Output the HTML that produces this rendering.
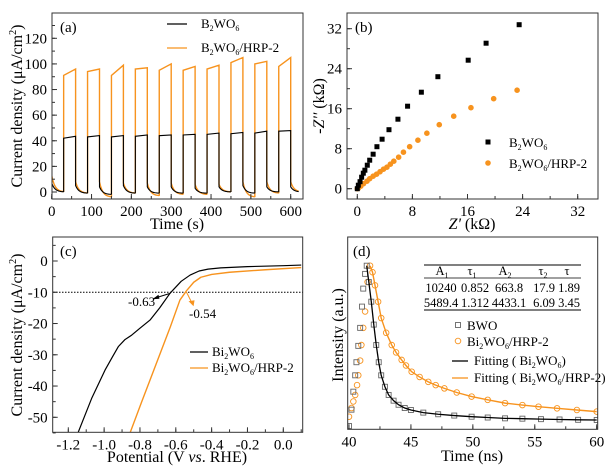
<!DOCTYPE html>
<html><head><meta charset="utf-8"><style>
html,body{margin:0;padding:0;background:#fff;}
svg, svg text, svg tspan{font-family:"Liberation Serif","DejaVu Serif",serif;}
</style></head><body>
<svg id="fig" width="615" height="471" viewBox="0 0 615 471" font-family="Liberation Serif, DejaVu Serif, serif">
<defs>
<clipPath id="ca"><rect x="52" y="13" width="251" height="186"/></clipPath>
<clipPath id="cb"><rect x="347" y="13" width="251" height="186"/></clipPath>
<clipPath id="cc"><rect x="53" y="237" width="250" height="195"/></clipPath>
<clipPath id="cd"><rect x="348" y="237" width="250" height="192"/></clipPath>
</defs>
<text x="60" y="32" font-size="15">(a)</text>
<text x="355" y="32" font-size="15">(b)</text>
<text x="60" y="256" font-size="15">(c)</text>
<text x="353" y="256" font-size="15">(d)</text>

<text transform="translate(22,106) rotate(-90)" text-anchor="middle" font-size="16">Current density (μA/cm<tspan dy="-6" font-size="10">2</tspan><tspan dy="6">)</tspan></text>
<text x="177" y="229" text-anchor="middle" font-size="16">Time (s)</text>
<text transform="translate(324,106) rotate(-90)" text-anchor="middle" font-size="16">-<tspan font-style="italic">Z''</tspan> (kΩ)</text>
<text x="472" y="229" text-anchor="middle" font-size="16"><tspan font-style="italic">Z'</tspan> (kΩ)</text>
<text transform="translate(22,335) rotate(-90)" text-anchor="middle" font-size="16">Current density (μA/cm<tspan dy="-6" font-size="10">2</tspan><tspan dy="6">)</tspan></text>
<text x="177" y="462" text-anchor="middle" font-size="16">Potential (V <tspan font-style="italic">vs</tspan>. RHE)</text>
<text transform="translate(343,335) rotate(-90)" text-anchor="middle" font-size="16">Intensity (a.u.)</text>
<text x="472" y="461" text-anchor="middle" font-size="16">Time (ns)</text>

<g>
<line x1="167" y1="24" x2="187" y2="24" stroke="#000" stroke-width="1.3"/>
<text x="201" y="28" font-size="13">B<tspan dy="3" font-size="8">2</tspan><tspan dy="-3">WO</tspan><tspan dy="3" font-size="8">6</tspan></text>
<line x1="167" y1="48" x2="187" y2="48" stroke="#f7931e" stroke-width="1.3"/>
<text x="201" y="52" font-size="13">B<tspan dy="3" font-size="8">2</tspan><tspan dy="-3">WO</tspan><tspan dy="3" font-size="8">6</tspan><tspan dy="-3">/HRP-2</tspan></text>
</g>
<g>
<rect x="485.5" y="139.5" width="5" height="5" fill="#000"/>
<text x="509" y="147" font-size="13">B<tspan dy="3" font-size="8">2</tspan><tspan dy="-3">WO</tspan><tspan dy="3" font-size="8">6</tspan></text>
<circle cx="488" cy="163" r="2.8" fill="#f7931e"/>
<text x="509" y="168" font-size="13">B<tspan dy="3" font-size="8">2</tspan><tspan dy="-3">WO</tspan><tspan dy="3" font-size="8">6</tspan><tspan dy="-3">/HRP-2</tspan></text>
</g>
<g>
<line x1="190" y1="352" x2="208" y2="352" stroke="#000" stroke-width="1.3"/>
<text x="212" y="356" font-size="13">Bi<tspan dy="3" font-size="8">2</tspan><tspan dy="-3">WO</tspan><tspan dy="3" font-size="8">6</tspan></text>
<line x1="190" y1="368" x2="208" y2="368" stroke="#f7931e" stroke-width="1.3"/>
<text x="212" y="372" font-size="13">Bi<tspan dy="3" font-size="8">2</tspan><tspan dy="-3">WO</tspan><tspan dy="3" font-size="8">6</tspan><tspan dy="-3">/HRP-2</tspan></text>
</g>
<text x="128" y="306" font-size="13">-0.63</text>
<text x="189" y="318" font-size="13">-0.54</text>
<g font-size="12.5" text-anchor="middle">
<line x1="424" y1="265" x2="581" y2="265" stroke="#000"/>
<line x1="424" y1="278" x2="581" y2="278" stroke="#000" stroke-width="0.8"/>
<line x1="424" y1="310" x2="581" y2="310" stroke="#000"/>
<text x="442" y="275">A<tspan dy="3" font-size="8">1</tspan></text>
<text x="472" y="275">τ<tspan dy="3" font-size="8">1</tspan></text>
<text x="505" y="275">A<tspan dy="3" font-size="8">2</tspan></text>
<text x="543" y="275">τ<tspan dy="3" font-size="8">2</tspan></text>
<text x="567" y="275">τ</text>
<text x="441" y="292">10240</text><text x="475" y="292">0.852</text><text x="509" y="292">663.8</text><text x="544" y="292">17.9</text><text x="569" y="292">1.89</text>
<text x="441" y="307">5489.4</text><text x="475" y="307">1.312</text><text x="509" y="307">4433.1</text><text x="544" y="307">6.09</text><text x="569" y="307">3.45</text>
</g>
<g font-size="13">
<rect x="455.5" y="322.5" width="5" height="5" fill="none" stroke="#666" stroke-width="0.9"/>
<text x="467" y="330">BWO</text>
<circle cx="458" cy="341" r="2.8" fill="none" stroke="#f7931e" stroke-width="0.9"/>
<text x="467" y="346">Bi<tspan dy="3" font-size="8">2</tspan><tspan dy="-3">WO</tspan><tspan dy="3" font-size="8">6</tspan><tspan dy="-3">/HRP-2</tspan></text>
<line x1="452" y1="361" x2="468" y2="361" stroke="#000" stroke-width="1.3"/>
<text x="474" y="365">Fitting ( Bi<tspan dy="3" font-size="8">2</tspan><tspan dy="-3">WO</tspan><tspan dy="3" font-size="8">6</tspan><tspan dy="-3">)</tspan></text>
<line x1="452" y1="378" x2="468" y2="378" stroke="#f7931e" stroke-width="1.3"/>
<text x="474" y="382">Fitting ( Bi<tspan dy="3" font-size="8">2</tspan><tspan dy="-3">WO</tspan><tspan dy="3" font-size="8">6</tspan><tspan dy="-3">/HRP-2)</tspan></text>
</g>
</svg>
<script>
const aOnStartsOrange = [91,94,91,96,95,95,96,101,100,98];
const aOnEndsOrange = [96,96,99,97,100,98,99,105,102,105];
const aOnStartsBlack = [42,43,43,43.5,44,44.5,45,45.5,46,47.5];
const aOnEndsBlack = [43.5,44,44,44.5,44.5,45,46,46.5,47.5,48];
const aOffStartsOrange = [13,8,8,7,7,7,6,6,8,8,8];
const aOffEndsOrange = [0,-1,-4,-1,-3,-2,-2,0,-4,-1,0];
const aOffStartsBlack = [7,5,4,5,4,4,3,4,5,4,4];
const aOffEndsBlack = [0,-1,-2,-1,-1,-1,-1,0,-1,0,0];
const aXTicks = [0,100,200,300,400,500,600];
const aYTicks = [0,20,40,60,80,100,120];
const bBlackX = [0,0.15,0.4,0.63,0.87,1.1,1.45,1.8,2.3,2.85,3.6,4.6,5.9,7.3,9.3,11.7,16.1,18.7,23.5];
const bBlackY = [0,0.7,1.4,2.3,3.1,3.7,4.7,5.7,6.9,8.4,9.9,11.8,13.9,16.5,19.3,22.4,25.7,29.1,32.8];
const bOrangeX = [0,0.15,0.5,0.9,1.4,1.8,2.3,2.8,3.3,3.8,4.3,4.8,5.3,6.0,6.7,7.6,8.8,10.1,11.9,14.0,16.5,19.8,23.2];
const bOrangeY = [0,0.1,0.5,1.0,1.5,2.0,2.5,2.9,3.4,3.9,4.3,4.9,5.5,6.3,7.3,8.4,9.7,11.1,12.8,14.5,16.2,18.0,19.7];
const bTicks = [0,8,16,24,32];
const cBlackV = [-1.16,-1.07,-0.995,-0.955,-0.921,-0.885,-0.846,-0.8,-0.744,-0.69,-0.632,-0.57,-0.52,-0.47,-0.42,-0.35,-0.2,0,0.1];
const cBlackJ = [-57,-44,-34.9,-30.8,-27.4,-25.2,-23.7,-21.5,-18.9,-15,-10.3,-6.5,-4.5,-3.2,-2.6,-2.2,-1.8,-1.5,-1.3];
const cOrangeV = [-0.862,-0.79,-0.71,-0.63,-0.577,-0.54,-0.5,-0.46,-0.4,-0.3,-0.1,0.1];
const cOrangeJ = [-56,-45,-33,-21,-12.5,-9.5,-6.8,-5.2,-4.3,-3.6,-2.8,-2.1];
const cXTicks = [-1.2,-1.0,-0.8,-0.6,-0.4,-0.2,0.0];
const cYTicks = [0,-10,-20,-30,-40,-50];
const dBwoT = [40,40.2,40.35,40.5,40.6,40.75,40.9,41.05,41.15,41.3,41.43,41.6,41.8,42.0,42.2,42.4,42.6,42.9,43.2,43.6,44,44.5,45,46,47.2,48.5,49.9,51.2,52.6,54,55.5,57,58.5,60];
const dBwoI = [0.02,0.12,0.23,0.33,0.41,0.51,0.62,0.75,0.86,0.95,1.0,0.9,0.78,0.64,0.515,0.41,0.33,0.26,0.21,0.175,0.15,0.13,0.118,0.102,0.092,0.084,0.077,0.072,0.067,0.065,0.062,0.06,0.058,0.057];
const dHrpT = [40,40.2,40.35,40.5,40.65,40.75,40.9,41.0,41.15,41.3,41.5,41.7,41.9,42.1,42.35,42.6,43.0,43.45,43.8,44.25,44.6,45.06,45.7,46.4,47.0,47.7,48.7,49.9,51.2,52.6,54,55.3,56.8,58.4,60];
const dHrpI = [0.077,0.13,0.17,0.21,0.27,0.33,0.42,0.515,0.62,0.72,0.9,1.0,0.96,0.88,0.78,0.68,0.59,0.515,0.47,0.424,0.39,0.352,0.32,0.29,0.27,0.25,0.225,0.2,0.18,0.16,0.148,0.138,0.128,0.118,0.108];
const dXTicks = [40,45,50,55,60];

const NS='http://www.w3.org/2000/svg';
const svg=document.getElementById('fig');
function mk(tag,attrs,parent){const e=document.createElementNS(NS,tag);for(const k in attrs)e.setAttribute(k,attrs[k]);(parent||svg).appendChild(e);return e;}
function lin(d0,d1,r0,r1){return v=>r0+(v-d0)*(r1-r0)/(d1-d0);}
const ORANGE='#f7931e';
const FF='Liberation Serif, DejaVu Serif, serif';

function frame(x0,y0,x1,y1,name){
  const r=mk('rect',{x:x0,y:y0,width:x1-x0,height:y1-y0,fill:'none',stroke:'#333','stroke-width':1});
  
  
}
function xTicks(ticks,X,yb,labels,minorStep,lo,hi,name,fmt){
  const g=mk('g',{});
  
  
  ticks.forEach(t=>{
    mk('line',{x1:X(t),x2:X(t),y1:yb,y2:yb-5,stroke:'#333'},g);
    if(labels){const tx=mk('text',{x:X(t),y:yb+17,'text-anchor':'middle','font-size':15,'font-family':FF},g);tx.textContent=fmt?fmt(t):t;}
  });
  if(minorStep){for(let v=lo;v<=hi+1e-9;v+=minorStep){mk('line',{x1:X(v),x2:X(v),y1:yb,y2:yb-3,stroke:'#333'},g);}}
}
function yTicks(ticks,Y,xl,labels,minorStep,lo,hi,name,fmt){
  const g=mk('g',{});
  
  
  ticks.forEach(t=>{
    mk('line',{x1:xl,x2:xl+5,y1:Y(t),y2:Y(t),stroke:'#333'},g);
    if(labels){const tx=mk('text',{x:xl-5,y:Y(t)+5,'text-anchor':'end','font-size':15,'font-family':FF},g);tx.textContent=fmt?fmt(t):t;}
  });
  if(minorStep){for(let v=lo;v<=hi+1e-9;v+=minorStep){mk('line',{x1:xl,x2:xl+3,y1:Y(v),y2:Y(v),stroke:'#333'},g);}}
}
function pts(xs,ys,X,Y){return xs.map((x,i)=>X(x).toFixed(2)+','+Y(ys[i]).toFixed(2)).join(' ');}

(function(){
  const X=lin(0,600,51.7,290.7), Y=lin(0,120,192,38.3);
  function series(onS,onE,offS,offE){
    const ts=[],vs=[];
    for(let i=0;i<offS.length;i++){
      const t0=60*i, t1=Math.min(t0+30,620);
      for(let t=t0;t<=t1;t+=2){ts.push(t);vs.push(offE[i]+(offS[i]-offE[i])*Math.exp(-(t-t0)/8));}
      if(i<onS.length){const a=t0+30;ts.push(a);vs.push(offE[i]);ts.push(a);vs.push(onS[i]);ts.push(a+30);vs.push(onE[i]);}
    }
    return [ts,vs];
  }
  const g=mk('g',{'clip-path':'url(#ca)'});
  
  
  const [tb,vb]=series(aOnStartsBlack,aOnEndsBlack,aOffStartsBlack,aOffEndsBlack);
  const [to,vo]=series(aOnStartsOrange,aOnEndsOrange,aOffStartsOrange,aOffEndsOrange);
  const lo=mk('polyline',{points:pts(to,vo,X,Y),fill:'none',stroke:ORANGE,'stroke-width':1.4},g);
  
  
  const lb=mk('polyline',{points:pts(tb,vb,X,Y),fill:'none',stroke:'#000','stroke-width':1.1},g);
  
  
  frame(52,13,303,199,'a-frame');
  xTicks(aXTicks,X,199,true,50,0,600,'a-x-axis');
  yTicks(aYTicks,Y,52,true,10,0,130,'a-y-axis');
})();

(function(){
  const X=lin(0,32,357.3,577.7), Y=lin(0,32,188.7,28.7);
  const g=mk('g',{'clip-path':'url(#cb)'});
  
  
  bOrangeX.forEach((x,i)=>{
    const c=mk('circle',{cx:X(x),cy:Y(bOrangeY[i]),r:2.8,fill:ORANGE},g);
    
    
  });
  bBlackX.forEach((x,i)=>{
    const r=mk('rect',{x:X(x)-2.5,y:Y(bBlackY[i])-2.5,width:5,height:5,fill:'#000'},g);
    
    
  });
  frame(347,13,598,199,'b-frame');
  xTicks(bTicks,X,199,true,4,0,34,'b-x-axis');
  yTicks(bTicks,Y,347,true,4,0,34,'b-y-axis');
})();

(function(){
  const X=lin(-1.2,0,68.3,283.3), Y=lin(0,-50,261,417.3);
  const g=mk('g',{'clip-path':'url(#cc)'});
  
  
  const d=mk('line',{x1:53,x2:303,y1:Y(-10),y2:Y(-10),stroke:'#000','stroke-dasharray':'1.5,1.5'},g);
  
  
  const lo=mk('polyline',{points:pts(cOrangeV,cOrangeJ,X,Y),fill:'none',stroke:ORANGE,'stroke-width':1.4,'stroke-linejoin':'round'},g);
  
  
  const lb=mk('polyline',{points:pts(cBlackV,cBlackJ,X,Y),fill:'none',stroke:'#000','stroke-width':1.2,'stroke-linejoin':'round'},g);
  
  
  const a1=mk('line',{x1:X(-0.63),y1:Y(-10)+1,x2:X(-0.63)-16,y2:Y(-10)+6,stroke:'#000','stroke-width':1},g);
  
  
  mk('polygon',{points:`${X(-0.63)-18},${Y(-10)+7} ${X(-0.63)-12},${Y(-10)+2.5} ${X(-0.63)-11},${Y(-10)+6.5}`,fill:'#000'},g);
  const a2=mk('line',{x1:X(-0.54),y1:Y(-10),x2:X(-0.54)+6,y2:Y(-10)+12,stroke:ORANGE,'stroke-width':1},g);
  
  
  mk('polygon',{points:`${X(-0.54)+7},${Y(-10)+14} ${X(-0.54)+2},${Y(-10)+9} ${X(-0.54)+8},${Y(-10)+8}`,fill:ORANGE},g);
  frame(52.7,237,302.7,432.3,'c-frame');
  xTicks(cXTicks,X,432.3,true,0.1,-1.2,0.1,'c-x-axis',t=>t.toFixed(1));
  yTicks(cYTicks,Y,52.7,true,5,-55,5,'c-y-axis');
})();

(function(){
  const X=lin(40,60,349,596.7), Y=lin(0,1,429.3,265.7);
  const g=mk('g',{'clip-path':'url(#cd)'});
  
  
  dHrpT.forEach((t,i)=>{
    const c=mk('circle',{cx:X(t),cy:Y(dHrpI[i]),r:2.8,fill:'none',stroke:ORANGE,'stroke-width':0.9},g);
    
    
  });
  dBwoT.forEach((t,i)=>{
    const r=mk('rect',{x:X(t)-2.5,y:Y(dBwoI[i])-2.5,width:5,height:5,fill:'none',stroke:'#666','stroke-width':0.9},g);
    
    
  });
  const pb=dBwoI.indexOf(Math.max(...dBwoI)), ph=dHrpI.indexOf(Math.max(...dHrpI));
  const fo=mk('polyline',{points:pts(dHrpT.slice(ph),dHrpI.slice(ph),X,Y),fill:'none',stroke:ORANGE,'stroke-width':1.4},g);
  
  
  const fb=mk('polyline',{points:pts(dBwoT.slice(pb),dBwoI.slice(pb),X,Y),fill:'none',stroke:'#000','stroke-width':1.3},g);
  
  
  frame(347.7,237,597.7,429.3,'d-frame');
  xTicks(dXTicks,X,429.3,true,2.5,40,60,'d-x-axis');
})();
</script>
</body></html>
